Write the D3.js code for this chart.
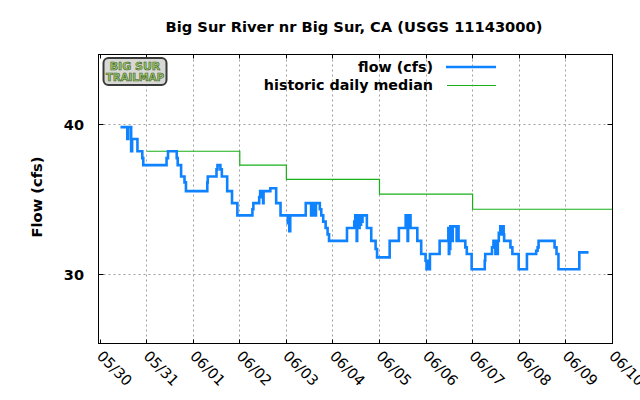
<!DOCTYPE html>
<html>
<head>
<meta charset="utf-8">
<script src="https://cdn.jsdelivr.net/npm/d3@7"></script>
<style>
  html, body { margin: 0; padding: 0; background: #fff; }
  svg { display: block; font-family: "DejaVu Sans", sans-serif; }
</style>
</head>
<body>
<div id="chart"></div>
<script>
// 15 minute gage readings, only the points where the value changes
const flowTimes = [
  "05/30 10:30","05/30 14:00","05/30 14:30","05/30 16:00","05/30 16:30","05/30 19:15","05/30 21:45","05/30 22:15",
  "05/31 10:15","05/31 11:00","05/31 15:30","05/31 16:00","05/31 17:45","05/31 19:30","05/31 20:15",
  "06/01 07:15","06/01 07:30","06/01 12:00","06/01 12:30","06/01 14:00","06/01 14:45","06/01 17:30","06/01 20:00","06/01 22:45",
  "06/02 06:30","06/02 07:00","06/02 10:00","06/02 10:30","06/02 10:45","06/02 11:00","06/02 11:15","06/02 11:30","06/02 12:00","06/02 12:15","06/02 15:45","06/02 18:45","06/02 21:00",
  "06/03 00:45","06/03 01:00","06/03 01:30","06/03 02:00","06/03 10:00","06/03 12:45","06/03 13:00","06/03 13:30","06/03 13:45","06/03 14:45","06/03 15:15","06/03 17:15","06/03 18:00","06/03 19:00","06/03 20:15","06/03 21:15","06/03 22:00",
  "06/04 07:15","06/04 11:00","06/04 11:30","06/04 11:45","06/04 12:00","06/04 12:15","06/04 12:30","06/04 12:45","06/04 13:00","06/04 13:30","06/04 13:45","06/04 14:15","06/04 14:30","06/04 15:00","06/04 15:15","06/04 17:30","06/04 19:45","06/04 22:00","06/04 22:45",
  "06/05 05:15","06/05 10:00","06/05 13:30","06/05 14:00","06/05 14:15","06/05 14:30","06/05 14:45","06/05 15:15","06/05 15:30","06/05 16:00","06/05 19:30","06/05 21:30","06/05 23:45",
  "06/06 00:15","06/06 00:45","06/06 01:00","06/06 02:00","06/06 07:00","06/06 11:30","06/06 11:45","06/06 12:00","06/06 12:15","06/06 12:30","06/06 13:30","06/06 13:45","06/06 15:45","06/06 16:00","06/06 16:45","06/06 20:15","06/06 21:00","06/06 23:30",
  "06/07 06:15","06/07 06:30","06/07 10:00","06/07 10:45","06/07 11:45","06/07 12:00","06/07 12:30","06/07 13:00","06/07 13:30","06/07 14:15","06/07 14:30","06/07 14:45","06/07 15:15","06/07 15:30","06/07 16:00","06/07 16:15","06/07 19:30","06/07 20:30","06/07 23:45",
  "06/08 04:00","06/08 08:45","06/08 09:30","06/08 10:00","06/08 18:15","06/08 19:15","06/08 20:15",
  "06/09 07:00","06/09 11:45"
];
const flowValues = [
  39.8,38.9,39.8,38.0,38.9,38.0,37.5,37.0,
  37.5,38.0,37.5,37.0,36.2,35.8,35.2,
  35.8,36.2,36.7,37.0,36.7,36.2,35.2,34.4,33.6,
  34.0,34.4,34.8,35.2,34.8,35.2,34.8,35.2,34.4,35.2,35.4,34.4,33.6,
  33.1,33.6,32.6,33.6,34.4,33.6,34.4,33.6,34.4,33.6,34.4,34.0,33.6,33.2,32.8,32.4,32.0,
  32.8,33.2,33.6,33.0,33.6,32.0,33.6,32.8,33.6,32.8,33.6,33.0,33.6,33.2,33.6,32.8,32.0,31.5,31.0,
  32.0,32.8,33.6,33.2,33.6,32.0,33.6,33.2,33.6,32.8,32.0,31.2,30.8,
  30.3,30.8,30.3,31.2,32.0,32.8,31.2,32.8,31.5,32.9,32.0,32.9,32.0,32.9,32.0,31.6,31.2,30.3,
  30.8,31.2,31.6,32.0,31.2,32.0,31.2,32.0,32.5,32.9,32.4,32.9,32.4,32.9,32.4,32.0,31.6,31.2,30.3,
  31.2,31.4,31.6,32.0,31.6,31.2,30.3,
  31.3,31.3
];

// historic daily median, one value per day
const medianDays = ["05/31","06/01","06/02","06/03","06/04","06/05","06/06","06/07","06/08","06/09","06/10"];
const medianValues = [38, 38, 37, 36, 36, 35, 35, 34, 34, 34, 34];

const xTickDays = ["05/30","05/31","06/01","06/02","06/03","06/04","06/05","06/06","06/07","06/08","06/09","06/10"];
const yTicks = [30, 40];

const title = "Big Sur River nr Big Sur, CA (USGS 11143000)";

const width = 640, height = 400;
// plot frame
const plotLeft = 98.5, plotRight = 612.5, plotTop = 54.5, plotBottom = 343.5;

const parseTime = d3.timeParse("%m/%d %H:%M");
const parseDay = d3.timeParse("%m/%d");

const flow = flowTimes.map((t, i) => ({date: parseTime(t), value: flowValues[i]}));
const median = medianDays.map((d, i) => ({date: parseDay(d), value: medianValues[i]}));

const x = d3.scaleTime()
    .domain([parseDay("05/30"), parseDay("06/10")])
    .range([100.1, 612.3]);

// log axis, 40 and 30 sit 150px apart
const y = d3.scaleLog()
    .domain([26.28, 45.75])
    .range([plotBottom, plotTop]);

const svg = d3.select("#chart").append("svg")
    .attr("width", width)
    .attr("height", height)
    .attr("viewBox", [0, 0, width, height]);

svg.append("rect").attr("width", width).attr("height", height).attr("fill", "#fff");

const px = v => Math.round(v - 0.5) + 0.5;

//dotted grid
const grid = svg.append("g")
    .attr("stroke", "#a0a0a0")
    .attr("stroke-width", 1)
    .attr("stroke-dasharray", "2,3");

grid.selectAll("line.vx")
  .data(xTickDays.slice(1, -1).map(parseDay))
  .join("line")
    .attr("class", "vx")
    .attr("x1", d => px(x(d)))
    .attr("x2", d => px(x(d)))
    .attr("y1", plotTop)
    .attr("y2", plotBottom);

grid.selectAll("line.hy")
  .data(yTicks)
  .join("line")
    .attr("class", "hy")
    .attr("x1", plotLeft)
    .attr("x2", plotRight)
    .attr("y1", d => px(y(d)))
    .attr("y2", d => px(y(d)));

// median drawn as steps, last day runs to 06/10
svg.append("path")
    .datum(median)
    .attr("fill", "none")
    .attr("stroke", "#19b019")
    .attr("stroke-width", 1.2)
    .attr("d", d3.line()
        .curve(d3.curveStepAfter)
        .x(d => x(d.date))
        .y(d => y(d.value)));

svg.append("path")
    .datum(flow)
    .attr("fill", "none")
    .attr("stroke", "#0f82ff")
    .attr("stroke-width", 2.6)
    .attr("stroke-linejoin", "miter")
    .attr("d", d3.line()
        .curve(d3.curveStepAfter)
        .x(d => x(d.date))
        .y(d => y(d.value)));

// frame and inward ticks
const axisG = svg.append("g").attr("stroke", "#000").attr("stroke-width", 1);
axisG.append("rect")
    .attr("x", plotLeft).attr("y", plotTop)
    .attr("width", plotRight - plotLeft).attr("height", plotBottom - plotTop)
    .attr("fill", "none");

const xt = xTickDays.map(parseDay);
axisG.selectAll("line.bt")
  .data(xt)
  .join("line")
    .attr("class", "bt")
    .attr("x1", d => px(x(d))).attr("x2", d => px(x(d)))
    .attr("y1", plotBottom).attr("y2", plotBottom - 4);
axisG.selectAll("line.tt")
  .data(xt)
  .join("line")
    .attr("class", "tt")
    .attr("x1", d => px(x(d))).attr("x2", d => px(x(d)))
    .attr("y1", plotTop).attr("y2", plotTop + 4);
axisG.selectAll("line.lt")
  .data(yTicks)
  .join("line")
    .attr("class", "lt")
    .attr("x1", plotLeft).attr("x2", plotLeft + 5)
    .attr("y1", d => px(y(d))).attr("y2", d => px(y(d)));
axisG.selectAll("line.rt")
  .data(yTicks)
  .join("line")
    .attr("class", "rt")
    .attr("x1", plotRight - 5).attr("x2", plotRight)
    .attr("y1", d => px(y(d))).attr("y2", d => px(y(d)));

// tick labels
svg.append("g")
    .attr("font-size", 14.5)
    .attr("font-weight", "bold")
    .attr("text-anchor", "end")
  .selectAll("text")
  .data(yTicks)
  .join("text")
    .attr("x", 84)
    .attr("y", d => y(d) + 5.5)
    .text(d => d);

// the last label runs off the right edge, same as the original
svg.append("g")
    .attr("font-size", 14.67)
    .attr("text-anchor", "start")
  .selectAll("text")
  .data(xt)
  .join("text")
    .attr("transform", d => `translate(${x(d) - 4},${357}) rotate(45)`)
    .text(d3.timeFormat("%m/%d"));

// title and axis label
svg.append("text")
    .attr("x", 354).attr("y", 32)
    .attr("text-anchor", "middle")
    .attr("font-size", 14.67)
    .attr("font-weight", "bold")
    .text(title);

svg.append("text")
    .attr("transform", "translate(42,197) rotate(-90)")
    .attr("text-anchor", "middle")
    .attr("font-size", 14.67)
    .attr("font-weight", "bold")
    .text("Flow (cfs)");

// legend
const legend = svg.append("g")
    .attr("font-size", 14.3)
    .attr("font-weight", "bold")
    .attr("text-anchor", "end");
legend.append("text").attr("x", 433).attr("y", 72).text("flow (cfs)");
legend.append("line").attr("x1", 446).attr("x2", 496).attr("y1", 67).attr("y2", 67)
    .attr("stroke", "#0f82ff").attr("stroke-width", 2.6);
legend.append("text").attr("x", 433).attr("y", 90).text("historic daily median");
legend.append("line").attr("x1", 447).attr("x2", 496).attr("y1", 85.5).attr("y2", 85.5)
    .attr("stroke", "#19b019").attr("stroke-width", 1.2);

// little site badge in the corner
const logo = svg.append("g");
logo.append("rect")
    .attr("x", 103.5).attr("y", 58).attr("width", 63).attr("height", 27).attr("rx", 5)
    .attr("fill", "#d8d8d4").attr("stroke", "#3a3a3a").attr("stroke-width", 2);
logo.append("text")
    .attr("x", 135).attr("y", 70)
    .attr("text-anchor", "middle")
    .attr("font-size", 11).attr("font-weight", "bold")
    .attr("fill", "#9ccc66").attr("stroke", "#3d5a2a").attr("stroke-width", 0.6)
    .text("BIG SUR");
logo.append("text")
    .attr("x", 135).attr("y", 81)
    .attr("text-anchor", "middle")
    .attr("font-size", 10).attr("font-weight", "bold")
    .attr("fill", "#9ccc66").attr("stroke", "#3d5a2a").attr("stroke-width", 0.6)
    .attr("textLength", 58)
    .text("TRAILMAP");
</script>
</body>
</html>
